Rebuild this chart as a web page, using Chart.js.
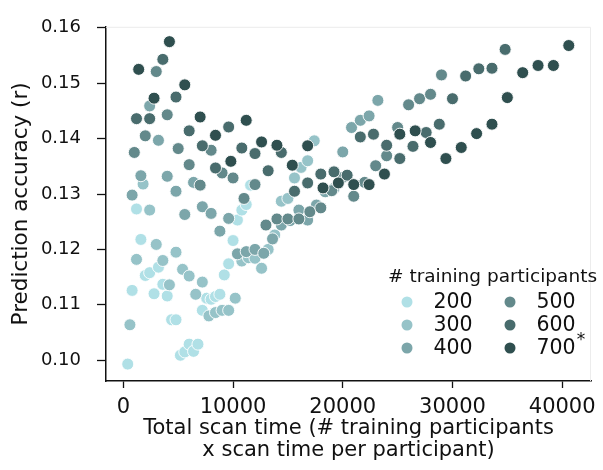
<!DOCTYPE html>
<html lang="en">
<head>
    <meta charset="UTF-8">
    <title>Prediction accuracy vs total scan time</title>
    <script src="https://cdn.jsdelivr.net/npm/chart.js"></script>
    <style>
        html, body { margin: 0; padding: 0; background: #fff; }
    </style>
</head>
<body>
    <canvas id="myChart" width="603" height="470"></canvas>

    <script>
        // scan time per participant (minutes)
        const scanTimes = [2, 4, 6, 8, 10, 12, 14, 16, 18, 20, 22, 24, 26, 28, 30,
                           32, 34, 36, 38, 40, 42, 44, 46, 48, 50, 52, 54, 56, 58];
        const participants = [200, 300, 400, 500, 600, 700];

        // prediction accuracy (r), one value per scan time
        const acc200 = [0.0993, 0.1126, 0.1273, 0.1218, 0.1153, 0.1158, 0.1120, 0.1168, 0.1137, 0.1116,
                        0.1073, 0.1073, 0.1009, 0.1015, 0.1029, 0.1016, 0.1029, 0.1090, 0.1112, 0.1110,
                        0.1115, 0.1119, 0.1154, 0.1174, 0.1216, 0.1253, 0.1271, 0.1281, 0.1316];
        const acc300 = [0.1064, 0.1182, 0.1318, 0.1271, 0.1209, 0.1180, 0.1136, 0.1195, 0.1164, 0.1152,
                        0.1119, 0.1141, 0.1080, 0.1086, 0.1090, 0.1090, 0.1112, 0.1179, 0.1185, 0.1184,
                        0.1166, 0.1200, 0.1226, 0.1287, 0.1292, 0.1329, 0.1348, 0.1360, 0.1396];
        const acc400 = [0.1298, 0.1333, 0.1459, 0.1397, 0.1332, 0.1305, 0.1263, 0.1321, 0.1277, 0.1265,
                        0.1233, 0.1256, 0.1192, 0.1196, 0.1200, 0.1193, 0.1219, 0.1244, 0.1252, 0.1271,
                        0.1253, 0.1280, 0.1304, 0.1310, 0.1376, 0.1420, 0.1433, 0.1441, 0.1469];
        const acc500 = [0.1375, 0.1405, 0.1521, 0.1443, 0.1382, 0.1353, 0.1316, 0.1379, 0.1338, 0.1329,
                        0.1292, 0.1317, 0.1244, 0.1255, 0.1255, 0.1255, 0.1268, 0.1275, 0.1306, 0.1330,
                        0.1296, 0.1321, 0.1351, 0.1369, 0.1420, 0.1461, 0.1472, 0.1480, 0.1515];
        const acc600 = [0.1436, 0.1436, 0.1543, 0.1475, 0.1414, 0.1387, 0.1347, 0.1421, 0.1383, 0.1373,
                        0.1342, 0.1375, 0.1305, 0.1320, 0.1336, 0.1340, 0.1334, 0.1403, 0.1408, 0.1388,
                        0.1364, 0.1386, 0.1411, 0.1426, 0.1472, 0.1513, 0.1526, 0.1527, 0.1561];
        const acc700 = [0.1525, 0.1473, 0.1575, 0.1497, 0.1439, 0.1406, 0.1359, 0.1433, 0.1394, 0.1388,
                        0.1352, 0.1387, 0.1311, 0.1320, 0.1317, 0.1317, 0.1336, 0.1408, 0.1414, 0.1393,
                        0.1364, 0.1384, 0.1409, 0.1426, 0.1474, 0.1519, 0.1532, 0.1532, 0.1568];

        const xTicks = [0, 10000, 20000, 30000, 40000];
        const yTicks = [0.10, 0.11, 0.12, 0.13, 0.14, 0.15, 0.16];

        // powderblue -> darkslategray
        const palette = ['#B0E0E6', '#96C3C8', '#7CA6AA', '#63898B', '#496C6D', '#2F4F4F'];
        const accuracy = [acc200, acc300, acc400, acc500, acc600, acc700];

        const FONT = '"DejaVu Sans"';
        Chart.defaults.font.family = FONT;
        Chart.defaults.color = '#111';

        const datasets = participants.map((n, i) => ({
            label: String(n),
            data: scanTimes.map((t, j) => ({ x: n * t, y: accuracy[i][j] })),
            backgroundColor: palette[i],
            borderColor: '#ffffff',
            borderWidth: 0.9,
            pointRadius: 6,
            pointHoverRadius: 6,
            order: participants.length - i   // darker groups on top
        }));

        // faint top/right frame plus the two-column legend
        const extras = {
            id: 'extras',
            beforeDatasetsDraw(chart) {
                const { ctx, chartArea: a } = chart;
                ctx.save();
                ctx.strokeStyle = '#ececec';
                ctx.lineWidth = 1;
                ctx.beginPath();
                ctx.moveTo(a.left, a.top + 0.5);
                ctx.lineTo(a.right - 0.5, a.top + 0.5);
                ctx.lineTo(a.right - 0.5, a.bottom);
                ctx.stroke();
                ctx.restore();
            },
            afterDraw(chart) {
                const ctx = chart.ctx;
                ctx.save();
                ctx.fillStyle = '#111';
                ctx.textBaseline = 'middle';
                ctx.font = '18.5px ' + FONT;
                ctx.fillText('# training participants', 388, 277);
                ctx.font = '20.5px ' + FONT;
                chart.data.datasets.forEach((ds, i) => {
                    const col = Math.floor(i / 3), row = i % 3;
                    const cx = 407 + col * 103, cy = 302 + row * 23;
                    ctx.beginPath();
                    ctx.arc(cx, cy, 5.5, 0, Math.PI * 2);
                    ctx.fillStyle = ds.backgroundColor;
                    ctx.fill();
                    ctx.fillStyle = '#111';
                    ctx.fillText(ds.label, cx + 26.5, cy + 1);
                    if (ds.label === '700') {
                        const w = ctx.measureText(ds.label).width;
                        ctx.font = '17px ' + FONT;
                        ctx.fillText('*', cx + 27.5 + w, cy - 7);
                        ctx.font = '20.5px ' + FONT;
                    }
                });
                ctx.restore();
            }
        };

        const ctx = document.getElementById('myChart').getContext('2d');
        const myChart = new Chart(ctx, {
            type: 'scatter',
            data: { datasets: datasets },
            options: {
                responsive: false,
                devicePixelRatio: 1,
                animation: false,
                layout: { padding: { top: 23, right: 6.5, left: 0, bottom: 0 } },
                plugins: {
                    legend: { display: false },
                    tooltip: { enabled: false }
                },
                scales: {
                    x: {
                        type: 'linear',
                        min: -1580,
                        max: 42630,
                        afterBuildTicks: axis => { axis.ticks = xTicks.map(v => ({ value: v })); },
                        afterFit: axis => { axis.height = 89; },
                        ticks: {
                            font: { size: 21 },
                            padding: 7,
                            maxRotation: 0,
                            callback: v => String(v)
                        },
                        grid: {
                            drawOnChartArea: false,
                            drawTicks: true,
                            tickLength: 7,
                            tickColor: '#111',
                            tickWidth: 1.3,
                            color: '#111'
                        },
                        border: { display: true, color: '#111', width: 1.5 },
                        title: {
                            display: true,
                            text: ['Total scan time (# training participants', 'x scan time per participant)'],
                            font: { size: 21, lineHeight: 1.05 },
                            padding: { top: 0, bottom: 8 }
                        }
                    },
                    y: {
                        type: 'linear',
                        min: 0.09625,
                        max: 0.16018,
                        afterBuildTicks: axis => { axis.ticks = yTicks.map(v => ({ value: v })); },
                        afterFit: axis => { axis.width = 106; },
                        ticks: {
                            font: { size: 18 },
                            padding: 16,
                            callback: v => v.toFixed(2)
                        },
                        grid: {
                            drawOnChartArea: false,
                            drawTicks: true,
                            tickLength: 9,
                            tickColor: '#111',
                            tickWidth: 1.3,
                            color: '#111'
                        },
                        border: { display: true, color: '#111', width: 1.5 },
                        title: {
                            display: true,
                            text: 'Prediction accuracy (r)',
                            font: { size: 21.5, lineHeight: 1.2 },
                            padding: { top: 9, bottom: 0 }
                        }
                    }
                }
            },
            plugins: [extras]
        });
    </script>
</body>
</html>
